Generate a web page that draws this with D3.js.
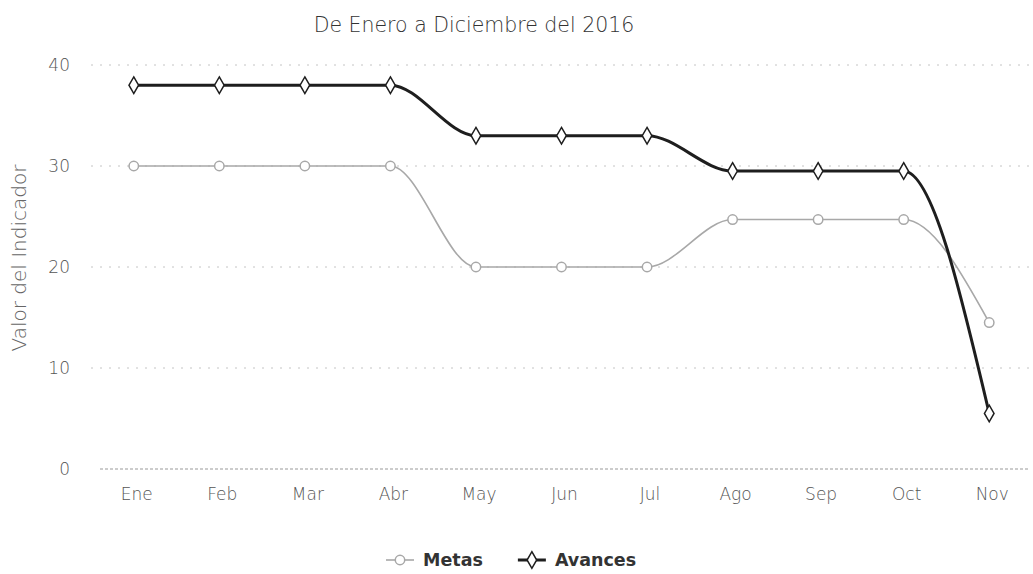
<!doctype html>
<html lang="es">
  <head>
    <meta charset="utf-8">
    <title>Metas vs Avances 2016</title>
    <script src="https://cdn.jsdelivr.net/npm/d3@7/dist/d3.min.js"></script>
    <style>
    body { margin: 0; background: #fff; }
    text { font-family: "DejaVu Sans", sans-serif; }
    .grid line { stroke: #c4c4c4; stroke-dasharray: 2,7; }
    .axis text { fill: #555; font-size: 17px; font-weight: 300; }
    </style>
  </head>
  <body>
    <svg width="1033" height="574"></svg>

    <script>
      var meses = ['Ene', 'Feb', 'Mar', 'Abr', 'May', 'Jun', 'Jul', 'Ago', 'Sep', 'Oct', 'Nov'];
      var metas = [30, 30, 30, 30, 20, 20, 20, 24.7, 24.7, 24.7, 14.5];
      var avances = [38, 38, 38, 38, 33, 33, 33, 29.5, 29.5, 29.5, 5.5];
      var yTicks = [0, 10, 20, 30, 40];

      var svg = d3.select('svg');

      var x = d3.scalePoint()
        .domain(meses)
        .range([91, 1032])
        .padding(0.5);

      var y = d3.scaleLinear()
        .domain([0, 40])
        .range([469, 65]);

      // title
      svg.append('text')
        .attr('x', 474).attr('y', 32)
        .attr('text-anchor', 'middle')
        .style('font-size', '20.5px')
        .style('font-weight', '300')
        .style('fill', '#333')
        .text('De Enero a Diciembre del 2016');

      // gridlines
      svg.append('g').attr('class', 'grid')
        .selectAll('line')
        .data(yTicks.slice(1))
        .enter().append('line')
          .attr('x1', 91).attr('x2', 1032)
          .attr('y1', y).attr('y2', y);

      // bottom line at 0
      svg.append('line')
        .attr('x1', 100).attr('x2', 1030)
        .attr('y1', y(0)).attr('y2', y(0))
        .style('stroke', '#999')
        .style('stroke-dasharray', '3,2');

      // y labels
      svg.append('g').attr('class', 'axis')
        .selectAll('text')
        .data(yTicks)
        .enter().append('text')
          .attr('x', 70)
          .attr('y', function(d){ return y(d) + 6; })
          .attr('text-anchor', 'end')
          .text(function(d){ return d; });

      // x labels
      svg.append('g').attr('class', 'axis')
        .selectAll('text')
        .data(meses)
        .enter().append('text')
          .attr('x', function(d){ return x(d) + 3; })
          .attr('y', 500)
          .attr('text-anchor', 'middle')
          .text(function(d){ return d; });

      // y axis title
      svg.append('text')
        .attr('transform', 'translate(26, 258) rotate(-90)')
        .attr('text-anchor', 'middle')
        .style('font-size', '20px')
        .style('font-weight', '300')
        .style('fill', '#666')
        .text('Valor del Indicador');

      var line = d3.line()
        .x(function(d, i){ return x(meses[i]); })
        .y(function(d){ return y(d); })
        .curve(d3.curveMonotoneX);

      var series = [
        { name: 'Metas', values: metas, color: '#a8a8a8', width: 1.6, symbol: d3.symbolCircle, size: 70 },
        { name: 'Avances', values: avances, color: '#1e1e1e', width: 3, symbol: d3.symbolDiamond, size: 80 }
      ];

      series.forEach(function(s){
        svg.append('path')
          .datum(s.values)
          .attr('d', line)
          .style('fill', 'none')
          .style('stroke', s.color)
          .style('stroke-width', s.width);

        svg.append('g')
          .selectAll('path')
          .data(s.values)
          .enter().append('path')
            .attr('transform', function(d, i){ return 'translate(' + x(meses[i]) + ',' + y(d) + ')'; })
            .attr('d', d3.symbol().type(s.symbol).size(s.size))
            .style('fill', '#fff')
            .style('stroke', s.color)
            .style('stroke-width', 1.5);
      });

      // legend
      var legend = svg.append('g').attr('transform', 'translate(386, 560)');
      var lx = 0;
      series.forEach(function(s){
        var item = legend.append('g').attr('transform', 'translate(' + lx + ',0)');
        item.append('line')
          .attr('x1', 0).attr('x2', 28)
          .style('stroke', s.color)
          .style('stroke-width', s.width);
        item.append('path')
          .attr('transform', 'translate(14,0)')
          .attr('d', d3.symbol().type(s.symbol).size(s.size))
          .style('fill', '#fff')
          .style('stroke', s.color)
          .style('stroke-width', 1.5);
        var t = item.append('text')
          .attr('x', 37).attr('y', 6)
          .style('font-size', '17.5px')
          .style('font-weight', 'bold')
          .style('fill', '#333')
          .text(s.name);
        lx += 37 + t.node().getComputedTextLength() + 35;
      });
    </script>
  </body>
</html>
